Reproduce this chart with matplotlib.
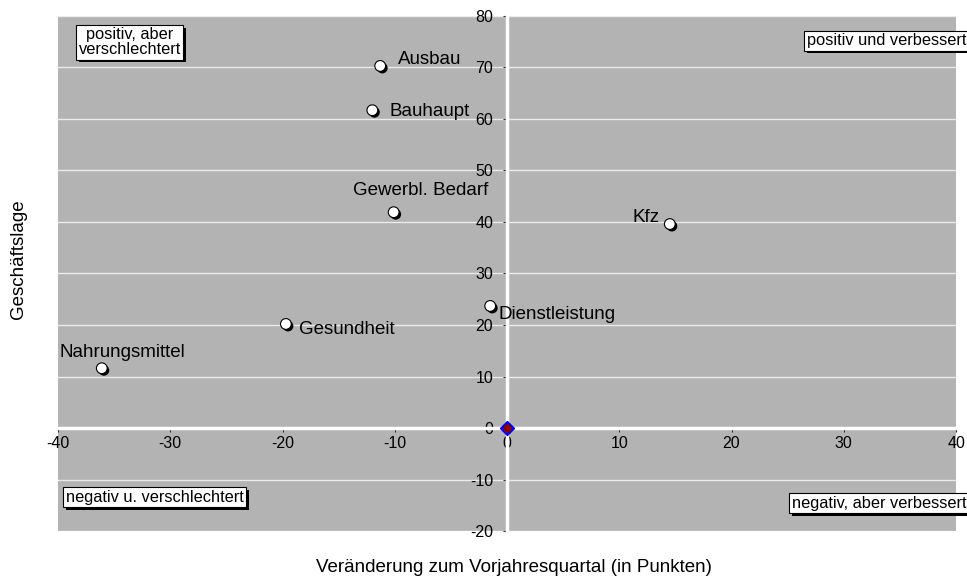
import matplotlib.pyplot as plt
import matplotlib.patheffects as pe

plt.rcParams['font.family'] = ['Liberation Sans', 'DejaVu Sans']
plt.rcParams['axes.unicode_minus'] = False

# Branchen: Veränderung (x) und Geschäftslage (y)
branchen = ["Ausbau", "Bauhaupt", "Gewerbl. Bedarf", "Kfz",
            "Dienstleistung", "Gesundheit", "Nahrungsmittel"]
veraenderung = [-11.3, -12.0, -10.1, 14.5, -1.5, -19.7, -36.1]
lage = [70.3, 61.7, 41.9, 39.6, 23.7, 20.2, 11.6]

# Versatz der Beschriftungen (Pixel) und Ausrichtung
versatz = [(18, 6), (17, -1), (27, 22), (-10, 7), (8, -9), (13, -6), (21, 16)]
ausricht = ["left", "left", "center", "right", "left", "left", "center"]

xticks = [-40, -30, -20, -10, 0, 10, 20, 30, 40]
yticks = [-20, -10, 0, 10, 20, 30, 40, 50, 60, 70, 80]

quadranten = [
    ("positiv, aber\nverschlechtert", -33.6, 74.9, "center"),
    ("positiv und verbessert", 40.9, 75.2, "right"),
    ("negativ u. verschlechtert", -39.3, -13.4, "left"),
    ("negativ, aber verbessert", 40.9, -14.6, "right"),
]

fig = plt.figure(figsize=(9.67, 5.77), dpi=100)
ax = fig.add_axes([0.06, 0.0797, 0.9287, 0.8926])
ax.set_facecolor("#b3b3b3")
ax.set_xlim(-40, 40)
ax.set_ylim(-20, 80)

for y in yticks:
    ax.axhline(y, color="#ebebeb", lw=1, zorder=1)

for s in ["top", "right"]:
    ax.spines[s].set_visible(False)
for s in ["left", "bottom"]:
    ax.spines[s].set_position(("data", 0))
    ax.spines[s].set_color("white")
    ax.spines[s].set_linewidth(2.5)
    ax.spines[s].set_zorder(2)

ax.set_xticks(xticks)
ax.set_yticks(yticks)
ax.tick_params(axis="both", labelsize=11.5, length=3, width=0.8, color="#333333")
ax.tick_params(axis="y", pad=7)
ax.tick_params(axis="x", pad=3)
for lbl in ax.get_xticklabels() + ax.get_yticklabels():
    lbl.set_clip_on(False)

sc = ax.scatter(veraenderung, lage, s=60, facecolor="white", edgecolor="black",
                linewidth=0.8, zorder=4)
sc.set_path_effects([pe.SimplePatchShadow(offset=(1.5, -1.5), shadow_rgbFace="black", alpha=1),
                     pe.Normal()])

for name, x, y, off, ha in zip(branchen, veraenderung, lage, versatz, ausricht):
    ax.annotate(name, (x, y), xytext=off, textcoords="offset pixels",
                ha=ha, va="center", fontsize=13.5, zorder=5)

# Ursprung
ax.plot([0], [0], marker="D", ms=7, color="blue", mec="blue", zorder=6, clip_on=False)
ax.plot([0], [0], marker="o", ms=5, color="#8b0000", mec="#8b0000", zorder=7, clip_on=False)

for txt, x, y, ha in quadranten:
    t = ax.text(x, y, txt, ha=ha, va="center", fontsize=11.8, linespacing=1.0,
                multialignment="center", zorder=8, clip_on=False,
                bbox=dict(boxstyle="square,pad=0.15", facecolor="white",
                          edgecolor="black", linewidth=0.8))
    t.get_bbox_patch().set_path_effects(
        [pe.SimplePatchShadow(offset=(2, -2), shadow_rgbFace="black", alpha=1), pe.Normal()])

fig.text(0.019, 0.55, "Geschäftslage", rotation=90, ha="center", va="center", fontsize=13.5)
fig.text(0.531, 0.016, "Veränderung zum Vorjahresquartal (in Punkten)",
         ha="center", va="center", fontsize=13.5)

fig.savefig("out.png", dpi=100)
